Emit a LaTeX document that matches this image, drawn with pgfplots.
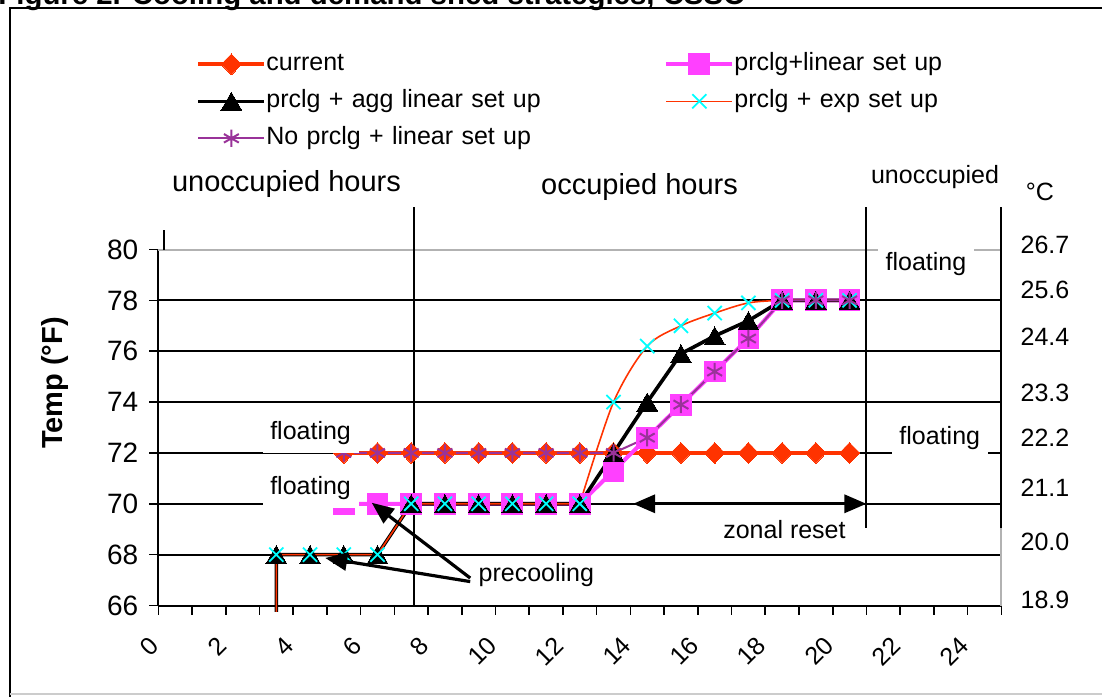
\documentclass[border=0pt]{standalone}
\usepackage{fontspec}
\setmainfont{Liberation Sans}
\usepackage{pgfplots}
\pgfplotsset{compat=1.18}
\usetikzlibrary{arrows.meta}

\definecolor{cur}{RGB}{255,51,0}
\definecolor{pnk}{RGB}{255,64,255}
\definecolor{prp}{RGB}{153,51,153}
\definecolor{cyn}{RGB}{0,255,255}

\newcommand\fA{\fontsize{12.5}{15}\selectfont}
\newcommand\fB{\fontsize{14.5}{17}\selectfont}
\newcommand\fT{\fontsize{14}{16}\selectfont}

\begin{document}
\begin{tikzpicture}
\useasboundingbox (0,0) rectangle (551pt,-348pt);

% frame and cut-off title
\draw[line width=1.2pt] (5pt,-350pt) -- (5pt,-4pt) -- (560pt,-4pt);
\draw[gray!40, line width=0.8pt] (5pt,-347pt) -- (560pt,-347pt);
\node[anchor=base west, inner sep=0pt, font=\bfseries\fontsize{14.7}{17}\selectfont] at (-1pt,-2pt)
  {Figure 2. Cooling and demand shed strategies, CSSO};

\begin{axis}[
  at={(79.15pt,-302.75pt)}, anchor=south west,
  scale only axis, width=421.5pt, height=178pt,
  xmin=0, xmax=25, ymin=66, ymax=80,
  clip=false,
  axis x line*=bottom, axis y line*=left,
  axis line style={black, line width=1pt},
  xtick={0,...,25},
  xticklabels={0,,2,,4,,6,,8,,10,,12,,14,,16,,18,,20,,22,,24,},
  ytick={66,68,...,78},
  extra y ticks={80},
  extra y tick style={grid style={gray!60, line width=1pt}},
  ymajorgrids, grid style={black, line width=1pt},
  tick align=outside, major tick length=4.5pt,
  tick style={black, line width=0.8pt},
  /pgf/number format/assume math mode=true,
  yticklabel style={font=\fT, xshift=-2pt},
  xticklabel style={font=\fA, xshift=-1pt, yshift=-12.5pt, rotate=45, anchor=east, inner sep=1pt},
  legend columns=2,
  legend style={at={(axis description cs:0.0447,1.555)}, anchor=north west,
    draw=none, fill=none, inner sep=0pt, column sep=0pt, row sep=6.5pt,
    nodes={inner sep=0pt, text height=9pt, text depth=3pt, text width=199pt,
      align=left, font=\fA}},
  legend image code/.code={\draw[mark repeat=2,mark phase=2,#1]
    plot coordinates {(0pt,0pt) (16.5pt,0pt) (33pt,0pt)};},
]

% current
\addplot[cur, line width=2pt, mark=diamond*, mark size=5.2pt,
  mark options={solid, line width=0pt, xscale=1.3}] coordinates {
  (5.5,72) (6.5,72) (7.5,72) (8.5,72) (9.5,72) (10.5,72) (11.5,72) (12.5,72)
  (13.5,72) (14.5,72) (15.5,72) (16.5,72) (17.5,72) (18.5,72) (19.5,72) (20.5,72)
};
% prclg + linear set up
\addplot[pnk, line width=2pt, mark=square*, mark size=5.2pt,
  mark options={solid, line width=0pt}] coordinates {
  (5.5,70) (6.5,70) (7.5,70) (8.5,70) (9.5,70) (10.5,70) (11.5,70) (12.5,70)
  (13.5,71.3) (14.5,72.6) (15.5,73.9) (16.5,75.2) (17.5,76.5) (18.5,78) (19.5,78) (20.5,78)
};
% prclg + agg linear set up
\addplot[black, line width=1.8pt, mark=triangle*, mark size=6pt, mark phase=2,
  mark options={solid, line width=0pt, yshift=-1.5pt}] coordinates {
  (3.5,65.75) (3.5,68) (4.5,68) (5.5,68) (6.5,68) (7.5,70) (8.5,70) (9.5,70) (10.5,70)
  (11.5,70) (12.5,70) (13.5,72) (14.5,74) (15.5,75.9) (16.5,76.6) (17.5,77.2)
  (18.5,78) (19.5,78) (20.5,78)
};
% prclg + exp set up (straight part, then smoothed part)
\addplot[cur, line width=0.8pt, mark=x, mark size=5pt, mark phase=2, forget plot,
  mark options={solid, cyn, line width=0.9pt}] coordinates {
  (3.5,65.75) (3.5,68) (4.5,68) (5.5,68) (6.5,68) (7.5,70) (8.5,70) (9.5,70) (10.5,70)
  (11.5,70) (12.5,70)
};
\addplot[cur, line width=0.8pt, smooth, tension=0.5, mark=x, mark size=5pt, mark phase=2,
  mark options={solid, cyn, line width=0.9pt}] coordinates {
  (12.5,70) (13.5,74.0) (14.5,76.2) (15.5,77.0) (16.5,77.5) (17.5,77.9)
  (18.5,78) (19.5,78) (20.5,78)
};
% No prclg + linear set up
\addplot[prp, line width=1pt, mark=asterisk, mark size=4.3pt,
  mark options={solid, line width=1pt}] coordinates {
  (5.5,72) (6.5,72) (7.5,72) (8.5,72) (9.5,72) (10.5,72) (11.5,72) (12.5,72)
  (13.5,72) (14.5,72.6) (15.5,73.9) (16.5,75.2) (17.5,76.5) (18.5,78) (19.5,78) (20.5,78)
};
\legend{current, prclg+linear set up, prclg + agg linear set up,
  prclg + exp set up, No prclg + linear set up}

% period boundaries
\draw[black, line width=1pt] (axis cs:7.59,66) -- (axis cs:7.59,81.67);
\draw[black, line width=1pt] (axis cs:21,69.05) -- (axis cs:21,81.67);
\draw[gray!60, line width=1pt] (axis cs:25,66) -- (axis cs:25,80);
\draw[black, line width=1pt] (axis cs:25,69.05) -- (axis cs:25,81.67);
\draw[black, line width=0.8pt] (axis cs:0.17,80) -- (axis cs:0.17,80.75);

% anchor points for the annotations drawn on top
\coordinate (fl1) at (axis cs:3.08,72);
\coordinate (fl2) at (axis cs:3.08,69.83);
\coordinate (fl3) at (axis cs:21.74,71.88);
\coordinate (fl4) at (axis cs:21.33,80.09);
\coordinate (a1s) at (axis cs:9.25,67.08);
\coordinate (a1e) at (axis cs:6.33,70.04);
\coordinate (a2s) at (axis cs:9.25,66.94);
\coordinate (a2e) at (axis cs:4.95,67.87);
\coordinate (pc) at (axis cs:9.49,67.2);
\coordinate (zrs) at (axis cs:14.08,70);
\coordinate (zre) at (axis cs:21,70);
\coordinate (zr) at (axis cs:18.57,69.0);
\end{axis}

% labels with white boxes
\node[fill=white, anchor=south west, minimum width=48pt, inner xsep=0pt, inner ysep=4pt, font=\fA]
  at (fl1) {floating};
\node[fill=white, anchor=south west, minimum width=48pt, inner xsep=0pt, inner ysep=4pt, font=\fA]
  at (fl2) {floating};
\node[fill=white, anchor=south west, minimum width=48pt, inner xsep=0pt, inner ysep=3pt, font=\fA]
  at (fl3) {floating};
\node[fill=white, anchor=north west, minimum width=48pt, inner xsep=0pt, inner ysep=2.5pt, font=\fA]
  at (fl4) {floating};

% annotations
\draw[line width=1.6pt, -{Triangle[length=11pt,width=9pt]}] (a1s) -- (a1e);
\draw[line width=1.6pt, -{Triangle[length=11pt,width=9pt]}] (a2s) -- (a2e);
\node[anchor=west, inner sep=0pt, font=\fA] at (pc) {precooling};
\draw[line width=1.6pt, {Triangle[length=11pt,width=9pt]}-{Triangle[length=11pt,width=9pt]}]
  (zrs) -- (zre);
\node[inner sep=0pt, font=\fA] at (zr) {zonal reset};

\begin{scope}[x=0.5pt, y=-0.5pt]
\node[anchor=base, inner sep=0pt, font=\fB] at (286.5,191) {unoccupied hours};
\node[anchor=base, inner sep=0pt, font=\fB] at (639.5,194) {occupied hours};
\node[anchor=base, inner sep=0pt, font=\fA] at (935,183) {unoccupied};
\node[anchor=base, inner sep=0pt, font=\fA] at (1040,200) {°C};
\node[rotate=90, inner sep=0pt, font=\bfseries\fontsize{14.5}{17}\selectfont] at (55,383) {Temp (°F)};
\foreach \yy/\tt in {245/26.7, 290/25.6, 337/24.4, 393/23.3, 438/22.2, 488/21.1, 542/20.0, 600/18.9}
  \node[inner sep=0pt, font=\fA] at (1045,\yy) {\tt};
\end{scope}
\end{tikzpicture}
\end{document}
